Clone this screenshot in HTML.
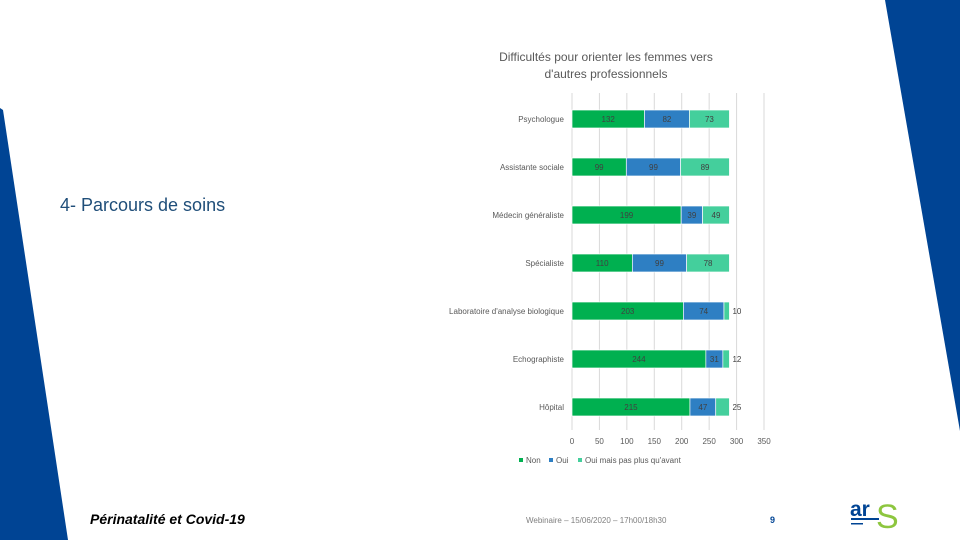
<!DOCTYPE html>
<html><head><meta charset="utf-8"><style>
body{margin:0;width:960px;height:540px;background:#fff;overflow:hidden;position:relative;font-family:"Liberation Sans",sans-serif}
svg{position:absolute;left:0;top:0}
</style></head><body>
<svg width="960" height="540">
<polygon points="0,108 3,110 68,540 0,540" fill="#004494"/>
<polygon points="885,0 960,0 960,431" fill="#004494"/>
<text x="60" y="211" font-size="18" fill="#1f4e79">4- Parcours de soins</text>
<text x="606" y="61" font-size="12" fill="#595959" text-anchor="middle">Difficultés pour orienter les femmes vers</text>
<text x="606" y="78" font-size="12" fill="#595959" text-anchor="middle">d'autres professionnels</text>
<g id="grid"></g><g id="bars"></g><g id="labels"></g>
<g font-size="8" fill="#595959">
<rect x="519" y="458" width="4" height="4" fill="#00b050"/><text x="526" y="463">Non</text>
<rect x="549" y="458" width="4" height="4" fill="#2e7fc3"/><text x="556" y="463">Oui</text>
<rect x="578" y="458" width="4" height="4" fill="#44cf9c"/><text x="585" y="463">Oui mais pas plus qu'avant</text>
</g>
<text x="90" y="524" font-size="14" font-style="italic" font-weight="bold" fill="#000">Périnatalité et Covid-19</text>
<text x="526" y="523" font-size="8" fill="#7f7f7f">Webinaire – 15/06/2020 – 17h00/18h30</text>
<text x="770" y="523" font-size="9" fill="#004494" font-weight="bold">9</text>
<g>
<text x="850" y="516" font-size="21" font-weight="bold" fill="#004494">ar</text>
<text x="876" y="528" font-size="34" fill="#8dc63f">S</text>
<rect x="851" y="518" width="28" height="2" fill="#004494"/>
<rect x="851" y="523" width="12" height="1.5" fill="#004494"/>
</g>
</svg>
<script>
const categories=["Psychologue","Assistante sociale","Médecin généraliste","Spécialiste","Laboratoire d'analyse biologique","Echographiste","Hôpital"];
const non=[132,99,199,110,203,244,215];
const oui=[82,99,39,99,74,31,47];
const ouiMais=[73,89,49,78,10,12,25];
const ticks=[0,50,100,150,200,250,300,350];
const NS="http://www.w3.org/2000/svg";
const x0=572,xs=(764-572)/350;
const X=v=>x0+v*xs;
const Y=i=>119+i*48;
function mk(t,a,p){const e=document.createElementNS(NS,t);for(const k in a)e.setAttribute(k,a[k]);p.appendChild(e);return e;}
const grid=document.getElementById('grid'),bars=document.getElementById('bars'),labels=document.getElementById('labels');
ticks.forEach(t=>{
 const l=mk('line',{x1:X(t),x2:X(t),y1:93,y2:430,stroke:'#d9d9d9','stroke-width':1},grid);
 
 
 const tx=mk('text',{x:X(t),y:444,'font-size':8,fill:'#595959','text-anchor':'middle'},grid);
 tx.textContent=t;
 
 
});
const series=[[non,'#00b050','non'],[oui,'#2e7fc3','oui'],[ouiMais,'#44cf9c','oui-mais']];
categories.forEach((c,i)=>{
 const cl=mk('text',{x:564,y:Y(i)+3,'font-size':8,fill:'#595959','text-anchor':'end'},labels);
 cl.textContent=c;
 
 
 let acc=0;
 series.forEach(([arr,col,nm])=>{
  const v=arr[i];
  const r=mk('rect',{x:X(acc),y:Y(i)-9,width:v*xs,height:18,fill:col,stroke:'#fff','stroke-width':0.7},bars);
  
  
  const small=v*xs<14;
  const t=mk('text',{x:small?X(acc+v)+3:X(acc+v/2),y:Y(i)+3,'font-size':8,fill:'#404040','text-anchor':small?'start':'middle'},labels);
  t.textContent=v;
  
  
  acc+=v;
 });
});
</script>
</body></html>
